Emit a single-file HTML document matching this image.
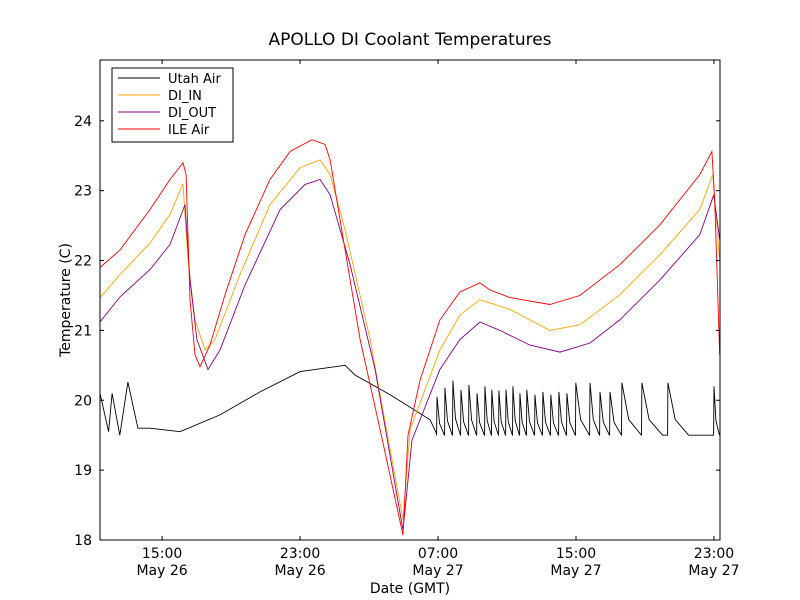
<!DOCTYPE html>
<html><head><meta charset="utf-8">
<style>
body{margin:0;background:#fff;}
svg{display:block;font-family:"DejaVu Sans","Liberation Sans",sans-serif;}
</style></head>
<body>
<svg id="chart" width="800" height="600">
<rect width="800" height="600" fill="#fff"/>
<text x="410" y="45" font-size="17" text-anchor="middle">APOLLO DI Coolant Temperatures</text>
<text x="410" y="593" font-size="14" text-anchor="middle">Date (GMT)</text>
<text x="70" y="300" font-size="14" text-anchor="middle" transform="rotate(-90 70 300)">Temperature (C)</text>
<g id="plot"></g>
<g id="axes"></g>
<g>
<rect x="112" y="68" width="121" height="74" fill="#fff" stroke="#000"/>
<g><line x1="118" x2="160" y1="78" y2="78" stroke="#000"/><text x="168" y="83" font-size="13">Utah Air</text></g>
<g><line x1="118" x2="160" y1="95" y2="95" stroke="#ffa500"/><text x="168" y="100" font-size="13">DI_IN</text></g>
<g><line x1="118" x2="160" y1="112" y2="112" stroke="#800080"/><text x="168" y="117" font-size="13">DI_OUT</text></g>
<g><line x1="118" x2="160" y1="129" y2="129" stroke="#ff0000"/><text x="168" y="134" font-size="13">ILE Air</text></g>
</g>
</svg>
<script>
// hours since May 26 00:00 GMT
const xTickHours=[15,23,31,39,47];
const xTickLabels=["15:00","23:00","07:00","15:00","23:00"];
const xTickDates=["May 26","May 26","May 27","May 27","May 27"];
const yTicks=[18,19,20,21,22,23,24];
const redHours=[11.4,12.56,14.3,15.46,16.21,16.39,16.62,16.91,17.2,17.78,18.65,19.81,21.26,22.42,23.69,24.45,24.74,25.61,26.48,27.64,28.97,29.26,29.96,31.11,32.27,33.43,34.0,35.17,37.48,39.22,41.54,43.86,46.18,46.88,47.04,47.33];
const redVals=[21.9,22.15,22.73,23.16,23.4,23.23,21.44,20.65,20.48,20.79,21.51,22.37,23.16,23.56,23.73,23.66,23.44,22.15,20.87,19.58,18.07,19.5,20.29,21.15,21.55,21.68,21.58,21.47,21.37,21.5,21.94,22.51,23.23,23.56,22.87,20.65];
const inHours=[11.4,12.56,14.3,15.46,16.21,16.5,16.91,17.49,18.07,19.52,21.26,23.0,24.16,24.74,25.61,27.06,28.97,29.38,31.11,32.27,33.43,35.17,37.48,39.22,41.54,43.86,46.18,46.93,47.33];
const inVals=[21.47,21.8,22.25,22.66,23.1,22.0,21.15,20.72,20.87,21.8,22.8,23.33,23.44,23.23,22.44,20.87,18.29,19.58,20.72,21.22,21.44,21.3,21.0,21.08,21.51,22.08,22.73,23.23,22.0];
const outHours=[11.4,12.56,14.3,15.46,16.33,16.62,17.02,17.66,18.36,19.81,21.84,23.29,24.16,24.74,25.9,27.35,28.97,29.49,31.11,32.27,33.43,34.59,36.33,38.07,39.81,41.54,43.86,46.18,46.99,47.33];
const outVals=[21.12,21.48,21.87,22.23,22.8,21.72,20.87,20.44,20.72,21.65,22.73,23.09,23.16,22.94,21.94,20.44,18.14,19.43,20.44,20.87,21.12,21.0,20.79,20.69,20.82,21.15,21.72,22.37,22.94,22.3];
const utahBaseHours=[11.4,11.9,12.1,12.55,13.02,13.6,14.3,16.04,18.36,20.68,23.0,25.61,26.19,28.22,30.54,30.9];
const utahBaseVals=[20.1,19.55,20.1,19.5,20.26,19.6,19.6,19.55,19.79,20.12,20.41,20.5,20.36,20.08,19.72,19.53];
const spikeHours=[30.94,31.40,31.86,32.33,32.79,33.26,33.72,34.12,34.53,34.94,35.34,35.75,36.15,36.62,37.08,37.54,38.01,38.47,38.99,39.81,40.39,40.97,41.66,42.82,44.33,47.0];
const spikePeaks=[20.05,20.18,20.28,20.15,20.22,20.1,20.2,20.15,20.14,20.15,20.2,20.1,20.15,20.08,20.12,20.08,20.12,20.1,20.25,20.25,20.12,20.12,20.25,20.25,20.25,20.2];
const L=100,R=720,T=60,B=540,xMin=11.4,xMax=47.35,yMin=18,yMax=24.87;
const X=h=>L+(h-xMin)/(xMax-xMin)*(R-L);
const Y=v=>B-(v-yMin)/(yMax-yMin)*(B-T);
const NS="http://www.w3.org/2000/svg";
const plot=document.getElementById('plot'),axes=document.getElementById('axes');
function path(hs,vs,color,name){
  const p=document.createElementNS(NS,'path');
  p.setAttribute('d',hs.map((h,i)=>(i?'L':'M')+X(h).toFixed(1)+','+Y(vs[i]).toFixed(1)).join(''));
  p.setAttribute('fill','none');p.setAttribute('stroke',color);p.setAttribute('stroke-width','0.9');
  
  
  plot.appendChild(p);
}
// Utah air: baseline then sawtooth spikes
const uh=utahBaseHours.slice(),uv=utahBaseVals.slice();
spikeHours.forEach((h,i)=>{
  const next=i+1<spikeHours.length?spikeHours[i+1]:xMax;
  uh.push(h-0.02);uv.push(19.5);
  uh.push(h);uv.push(spikePeaks[i]);
  const d=Math.min(next-h-0.03,1.2);
  uh.push(h+d*0.35);uv.push(19.5+(spikePeaks[i]-19.5)*0.3);
  uh.push(h+d);uv.push(19.5);
  if(next-h>1.3){uh.push(next-0.05);uv.push(19.5);}
});
path(uh,uv,'#000','series-utah-air');
path(inHours,inVals,'#ffa500','series-di-in');
path(outHours,outVals,'#800080','series-di-out');
path(redHours,redVals,'#ff0000','series-ile-air');
const frame=document.createElementNS(NS,'rect');
frame.setAttribute('x',L);frame.setAttribute('y',T);frame.setAttribute('width',R-L);frame.setAttribute('height',B-T);
frame.setAttribute('fill','none');frame.setAttribute('stroke','#000');


axes.appendChild(frame);
yTicks.forEach(v=>{
  const y=Y(v);
  const g=document.createElementNS(NS,'g');
  
  
  g.innerHTML=`<line x1="${L}" x2="${L+4}" y1="${y}" y2="${y}" stroke="#000"/><line x1="${R}" x2="${R-4}" y1="${y}" y2="${y}" stroke="#000"/><text x="${L-8}" y="${y+5}" font-size="14" text-anchor="end">${v}</text>`;
  axes.appendChild(g);
});
xTickHours.forEach((h,i)=>{
  const x=X(h);
  const g=document.createElementNS(NS,'g');
  
  
  g.innerHTML=`<line x1="${x}" x2="${x}" y1="${B}" y2="${B-4}" stroke="#000"/><line x1="${x}" x2="${x}" y1="${T}" y2="${T+4}" stroke="#000"/><text x="${x}" y="${B+18}" font-size="14" text-anchor="middle">${xTickLabels[i]}</text><text x="${x}" y="${B+35}" font-size="14" text-anchor="middle">${xTickDates[i]}</text>`;
  axes.appendChild(g);
});
</script>
</body></html>
